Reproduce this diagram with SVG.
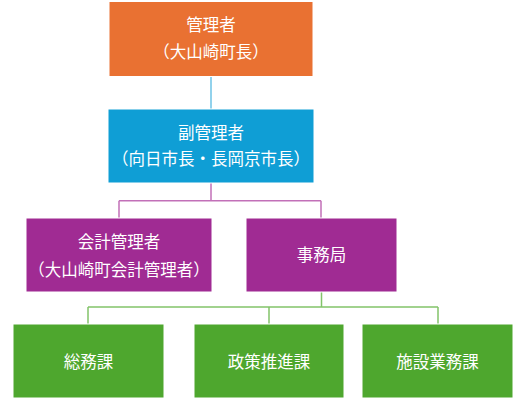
<svg xmlns="http://www.w3.org/2000/svg" width="520" height="401" viewBox="0 0 520 401">
<style>
  .box { stroke: #ffffff; stroke-width: 1; }
  .t { fill: #ffffff; font-family: "Noto Sans CJK JP", "Noto Sans", sans-serif; font-size: 16.5px; text-anchor: middle; }
  .c { fill: none; stroke-width: 1.5; }
</style>
<rect width="520" height="401" fill="#ffffff"/>
<g id="connectors">
  <path class="c" stroke="#6EC3E6" d="M211,76 V109"/>
  <path class="c" stroke="#C270B8" d="M211,183 V200.7 M119,200.7 H321 M119,200.7 V218 M321,200.7 V218"/>
  <path class="c" stroke="#82C46A" d="M321.5,292 V307 M88,307 H438 M88,307 V324 M269,307 V324 M438,307 V324"/>
</g>
<g id="n1">
  <rect class="box" x="109" y="1.5" width="204" height="75" fill="#E97132"/>
  <text class="t" x="211" y="31">管理者</text>
  <text class="t" x="211" y="58">（大山崎町長）</text>
</g>
<g id="n2">
  <rect class="box" x="108" y="109" width="206" height="74" fill="#0F9ED5"/>
  <text class="t" x="211" y="139">副管理者</text>
  <text class="t" x="211" y="165">（向日市長・長岡京市長）</text>
</g>
<g id="n3">
  <rect class="box" x="26" y="218" width="186" height="74" fill="#A02B93"/>
  <text class="t" x="119" y="248">会計管理者</text>
  <text class="t" x="119" y="276">（大山崎町会計管理者）</text>
</g>
<g id="n4">
  <rect class="box" x="246" y="218" width="151" height="74" fill="#A02B93"/>
  <text class="t" x="321.5" y="261">事務局</text>
</g>
<g id="n5">
  <rect class="box" x="13" y="324" width="151" height="74" fill="#4EA72E"/>
  <text class="t" x="88.5" y="368">総務課</text>
</g>
<g id="n6">
  <rect class="box" x="194" y="324" width="150" height="74" fill="#4EA72E"/>
  <text class="t" x="269" y="368">政策推進課</text>
</g>
<g id="n7">
  <rect class="box" x="362" y="324" width="151" height="74" fill="#4EA72E"/>
  <text class="t" x="437.5" y="368">施設業務課</text>
</g>
</svg>
